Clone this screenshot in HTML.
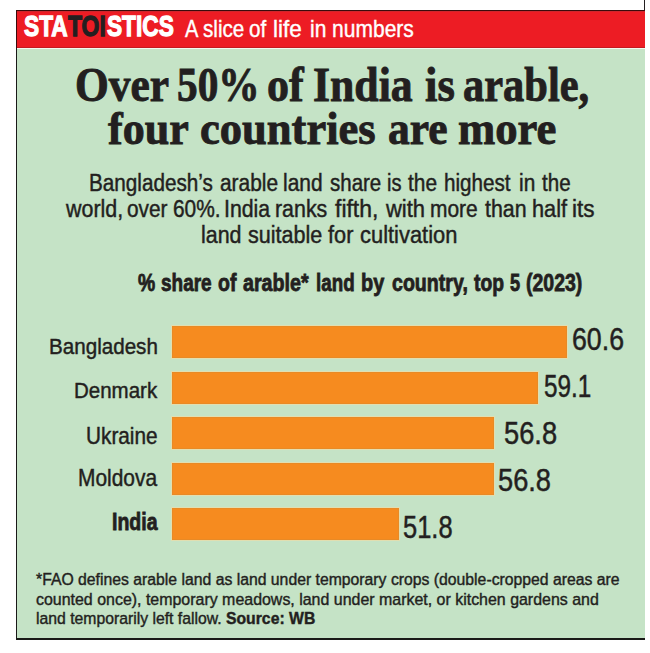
<!DOCTYPE html>
<html><head><meta charset="utf-8"><style>
html,body{margin:0;padding:0;background:#fff;width:650px;height:653px;overflow:hidden;position:relative}
.t{position:absolute;white-space:pre;line-height:1;transform-origin:0 0}
</style></head><body>
<div style="position:absolute;left:16px;top:10px;width:629px;height:630px;background:#1A1A18"></div>
<div style="position:absolute;left:17px;top:11px;width:628px;height:627px;background:#C5E3C6"></div>
<div style="position:absolute;left:16px;top:10px;width:629px;height:1px;background:#3A0B0C"></div>
<div style="position:absolute;left:16px;top:11px;width:1px;height:37px;background:#3A0B0C"></div>
<div style="position:absolute;left:17px;top:11px;width:628px;height:37px;background:#ED1C24"></div>
<div style="position:absolute;left:17px;top:11px;width:628px;height:1px;background:#D0262C"></div>
<div style="position:absolute;left:17px;top:47px;width:628px;height:1px;background:#C41A20"></div>
<div style="position:absolute;left:17px;top:48px;width:628px;height:1px;background:#F4F8F0"></div>
<div style="position:absolute;left:644px;top:0px;width:1px;height:10px;background:#231F20"></div>
<div style="position:absolute;left:172px;top:326px;width:395px;height:32px;background:#F68B1F;box-shadow:0 0 0 1px #E2DEB0, inset 0 0 0 1px #E88A26"></div>
<div style="position:absolute;left:172px;top:372px;width:366px;height:32px;background:#F68B1F;box-shadow:0 0 0 1px #E2DEB0, inset 0 0 0 1px #E88A26"></div>
<div style="position:absolute;left:172px;top:417px;width:322px;height:32px;background:#F68B1F;box-shadow:0 0 0 1px #E2DEB0, inset 0 0 0 1px #E88A26"></div>
<div style="position:absolute;left:172px;top:463px;width:322px;height:32px;background:#F68B1F;box-shadow:0 0 0 1px #E2DEB0, inset 0 0 0 1px #E88A26"></div>
<div style="position:absolute;left:172px;top:508px;width:227px;height:32px;background:#F68B1F;box-shadow:0 0 0 1px #E2DEB0, inset 0 0 0 1px #E88A26"></div>
<div class="t" style="left:24.13px;top:11.06px;font-family:'Liberation Sans',sans-serif;font-weight:700;font-size:29.57px;transform:scaleX(0.7677);letter-spacing:0px;color:#FFFFFF;-webkit-text-stroke:1.3px #FFFFFF">STA</div>
<div class="t" style="left:67.83px;top:11.06px;font-family:'Liberation Sans',sans-serif;font-weight:700;font-size:29.57px;transform:scaleX(0.7754);letter-spacing:0px;color:#231F20;-webkit-text-stroke:1.3px #231F20">TOI</div>
<div class="t" style="left:107.14px;top:11.06px;font-family:'Liberation Sans',sans-serif;font-weight:700;font-size:29.57px;transform:scaleX(0.7669);letter-spacing:0px;color:#FFFFFF;-webkit-text-stroke:1.3px #FFFFFF">STICS</div>
<div class="t" style="left:184.66px;top:17.07px;font-family:'Liberation Sans',sans-serif;font-weight:400;font-size:23.84px;transform:scaleX(0.8421);letter-spacing:0px;color:#FFFFFF;-webkit-text-stroke:0.4px #FFFFFF">A</div>
<div class="t" style="left:202.99px;top:17.07px;font-family:'Liberation Sans',sans-serif;font-weight:400;font-size:23.84px;transform:scaleX(0.8671);letter-spacing:0px;color:#FFFFFF;-webkit-text-stroke:0.4px #FFFFFF">slice</div>
<div class="t" style="left:249.25px;top:17.07px;font-family:'Liberation Sans',sans-serif;font-weight:400;font-size:23.84px;transform:scaleX(0.8658);letter-spacing:0px;color:#FFFFFF;-webkit-text-stroke:0.4px #FFFFFF">of</div>
<div class="t" style="left:273.41px;top:17.07px;font-family:'Liberation Sans',sans-serif;font-weight:400;font-size:23.84px;transform:scaleX(0.9447);letter-spacing:0px;color:#FFFFFF;-webkit-text-stroke:0.4px #FFFFFF">life</div>
<div class="t" style="left:310.08px;top:17.07px;font-family:'Liberation Sans',sans-serif;font-weight:400;font-size:23.84px;transform:scaleX(0.8822);letter-spacing:0px;color:#FFFFFF;-webkit-text-stroke:0.4px #FFFFFF">in</div>
<div class="t" style="left:332.39px;top:17.07px;font-family:'Liberation Sans',sans-serif;font-weight:400;font-size:23.84px;transform:scaleX(0.8831);letter-spacing:0px;color:#FFFFFF;-webkit-text-stroke:0.4px #FFFFFF">numbers</div>
<div class="t" style="left:74.75px;top:60.55px;font-family:'Liberation Serif',serif;font-weight:700;font-size:48.53px;transform:scaleX(0.8955);letter-spacing:0px;color:#231F20;-webkit-text-stroke:0.9px #231F20">Over</div>
<div class="t" style="left:177.17px;top:60.55px;font-family:'Liberation Serif',serif;font-weight:700;font-size:48.53px;transform:scaleX(0.8519);letter-spacing:0px;color:#231F20;-webkit-text-stroke:0.9px #231F20">50%</div>
<div class="t" style="left:266.97px;top:60.55px;font-family:'Liberation Serif',serif;font-weight:700;font-size:48.53px;transform:scaleX(0.9077);letter-spacing:0px;color:#231F20;-webkit-text-stroke:0.9px #231F20">of</div>
<div class="t" style="left:313.31px;top:60.55px;font-family:'Liberation Serif',serif;font-weight:700;font-size:48.53px;transform:scaleX(0.9018);letter-spacing:0px;color:#231F20;-webkit-text-stroke:0.9px #231F20">India</div>
<div class="t" style="left:424.8px;top:60.55px;font-family:'Liberation Serif',serif;font-weight:700;font-size:48.53px;transform:scaleX(0.9204);letter-spacing:0px;color:#231F20;-webkit-text-stroke:0.9px #231F20">is</div>
<div class="t" style="left:463.06px;top:60.55px;font-family:'Liberation Serif',serif;font-weight:700;font-size:48.53px;transform:scaleX(0.8752);letter-spacing:0px;color:#231F20;-webkit-text-stroke:0.9px #231F20">arable,</div>
<div class="t" style="left:108.24px;top:104.56px;font-family:'Liberation Serif',serif;font-weight:700;font-size:46.8px;transform:scaleX(0.9413);letter-spacing:0px;color:#231F20;-webkit-text-stroke:0.9px #231F20">four</div>
<div class="t" style="left:200.3px;top:104.56px;font-family:'Liberation Serif',serif;font-weight:700;font-size:46.8px;transform:scaleX(0.9517);letter-spacing:0px;color:#231F20;-webkit-text-stroke:0.9px #231F20">countries</div>
<div class="t" style="left:387.65px;top:104.56px;font-family:'Liberation Serif',serif;font-weight:700;font-size:46.8px;transform:scaleX(0.9296);letter-spacing:0px;color:#231F20;-webkit-text-stroke:0.9px #231F20">are</div>
<div class="t" style="left:457.57px;top:104.56px;font-family:'Liberation Serif',serif;font-weight:700;font-size:46.8px;transform:scaleX(0.955);letter-spacing:0px;color:#231F20;-webkit-text-stroke:0.9px #231F20">more</div>
<div class="t" style="left:88.97px;top:171.5px;font-family:'Liberation Sans',sans-serif;font-weight:400;font-size:23.07px;transform:scaleX(0.897);letter-spacing:0px;color:#231F20;-webkit-text-stroke:0.45px #231F20">Bangladesh’s</div>
<div class="t" style="left:219.93px;top:171.5px;font-family:'Liberation Sans',sans-serif;font-weight:400;font-size:23.07px;transform:scaleX(0.9062);letter-spacing:0px;color:#231F20;-webkit-text-stroke:0.45px #231F20">arable</div>
<div class="t" style="left:283.47px;top:171.5px;font-family:'Liberation Sans',sans-serif;font-weight:400;font-size:23.07px;transform:scaleX(0.9059);letter-spacing:0px;color:#231F20;-webkit-text-stroke:0.45px #231F20">land</div>
<div class="t" style="left:329.53px;top:171.5px;font-family:'Liberation Sans',sans-serif;font-weight:400;font-size:23.07px;transform:scaleX(0.8887);letter-spacing:0px;color:#231F20;-webkit-text-stroke:0.45px #231F20">share</div>
<div class="t" style="left:386.5px;top:171.5px;font-family:'Liberation Sans',sans-serif;font-weight:400;font-size:23.07px;transform:scaleX(0.8697);letter-spacing:0px;color:#231F20;-webkit-text-stroke:0.45px #231F20">is</div>
<div class="t" style="left:408.3px;top:171.5px;font-family:'Liberation Sans',sans-serif;font-weight:400;font-size:23.07px;transform:scaleX(0.9058);letter-spacing:0px;color:#231F20;-webkit-text-stroke:0.45px #231F20">the</div>
<div class="t" style="left:443.9px;top:171.5px;font-family:'Liberation Sans',sans-serif;font-weight:400;font-size:23.07px;transform:scaleX(0.8953);letter-spacing:0px;color:#231F20;-webkit-text-stroke:0.45px #231F20">highest</div>
<div class="t" style="left:519.07px;top:171.5px;font-family:'Liberation Sans',sans-serif;font-weight:400;font-size:23.07px;transform:scaleX(0.9028);letter-spacing:0px;color:#231F20;-webkit-text-stroke:0.45px #231F20">in</div>
<div class="t" style="left:542.37px;top:171.5px;font-family:'Liberation Sans',sans-serif;font-weight:400;font-size:23.07px;transform:scaleX(0.8919);letter-spacing:0px;color:#231F20;-webkit-text-stroke:0.45px #231F20">the</div>
<div class="t" style="left:65.66px;top:196.81px;font-family:'Liberation Sans',sans-serif;font-weight:400;font-size:23.89px;transform:scaleX(0.8972);letter-spacing:0px;color:#231F20;-webkit-text-stroke:0.45px #231F20">world,</div>
<div class="t" style="left:126.85px;top:196.81px;font-family:'Liberation Sans',sans-serif;font-weight:400;font-size:23.89px;transform:scaleX(0.8717);letter-spacing:0px;color:#231F20;-webkit-text-stroke:0.45px #231F20">over</div>
<div class="t" style="left:173.06px;top:196.81px;font-family:'Liberation Sans',sans-serif;font-weight:400;font-size:23.89px;transform:scaleX(0.8754);letter-spacing:0px;color:#231F20;-webkit-text-stroke:0.45px #231F20">60%.</div>
<div class="t" style="left:223.64px;top:196.81px;font-family:'Liberation Sans',sans-serif;font-weight:400;font-size:23.89px;transform:scaleX(0.8902);letter-spacing:0px;color:#231F20;-webkit-text-stroke:0.45px #231F20">India</div>
<div class="t" style="left:275.49px;top:196.81px;font-family:'Liberation Sans',sans-serif;font-weight:400;font-size:23.89px;transform:scaleX(0.8951);letter-spacing:0px;color:#231F20;-webkit-text-stroke:0.45px #231F20">ranks</div>
<div class="t" style="left:335.44px;top:196.81px;font-family:'Liberation Sans',sans-serif;font-weight:400;font-size:23.89px;transform:scaleX(0.9616);letter-spacing:0px;color:#231F20;-webkit-text-stroke:0.45px #231F20">fifth,</div>
<div class="t" style="left:386.47px;top:196.81px;font-family:'Liberation Sans',sans-serif;font-weight:400;font-size:23.89px;transform:scaleX(0.92);letter-spacing:0px;color:#231F20;-webkit-text-stroke:0.45px #231F20">with</div>
<div class="t" style="left:430.12px;top:196.81px;font-family:'Liberation Sans',sans-serif;font-weight:400;font-size:23.89px;transform:scaleX(0.8775);letter-spacing:0px;color:#231F20;-webkit-text-stroke:0.45px #231F20">more</div>
<div class="t" style="left:484.5px;top:196.81px;font-family:'Liberation Sans',sans-serif;font-weight:400;font-size:23.89px;transform:scaleX(0.8941);letter-spacing:0px;color:#231F20;-webkit-text-stroke:0.45px #231F20">than</div>
<div class="t" style="left:532.1px;top:196.81px;font-family:'Liberation Sans',sans-serif;font-weight:400;font-size:23.89px;transform:scaleX(0.9107);letter-spacing:0px;color:#231F20;-webkit-text-stroke:0.45px #231F20">half</div>
<div class="t" style="left:572.36px;top:196.81px;font-family:'Liberation Sans',sans-serif;font-weight:400;font-size:23.89px;transform:scaleX(0.9454);letter-spacing:0px;color:#231F20;-webkit-text-stroke:0.45px #231F20">its</div>
<div class="t" style="left:201.46px;top:222.7px;font-family:'Liberation Sans',sans-serif;font-weight:400;font-size:23.89px;transform:scaleX(0.8981);letter-spacing:0px;color:#231F20;-webkit-text-stroke:0.45px #231F20">land</div>
<div class="t" style="left:247.66px;top:222.7px;font-family:'Liberation Sans',sans-serif;font-weight:400;font-size:23.89px;transform:scaleX(0.9033);letter-spacing:0px;color:#231F20;-webkit-text-stroke:0.45px #231F20">suitable</div>
<div class="t" style="left:328.44px;top:222.7px;font-family:'Liberation Sans',sans-serif;font-weight:400;font-size:23.89px;transform:scaleX(0.9106);letter-spacing:0px;color:#231F20;-webkit-text-stroke:0.45px #231F20">for</div>
<div class="t" style="left:360.44px;top:222.7px;font-family:'Liberation Sans',sans-serif;font-weight:400;font-size:23.89px;transform:scaleX(0.9171);letter-spacing:0px;color:#231F20;-webkit-text-stroke:0.45px #231F20">cultivation</div>
<div class="t" style="left:137.8px;top:272.18px;font-family:'Liberation Sans',sans-serif;font-weight:700;font-size:23.47px;transform:scaleX(0.8236);letter-spacing:0px;color:#231F20;-webkit-text-stroke:0.8px #231F20">%</div>
<div class="t" style="left:160.71px;top:272.18px;font-family:'Liberation Sans',sans-serif;font-weight:700;font-size:23.47px;transform:scaleX(0.8082);letter-spacing:0px;color:#231F20;-webkit-text-stroke:0.8px #231F20">share</div>
<div class="t" style="left:217.62px;top:272.18px;font-family:'Liberation Sans',sans-serif;font-weight:700;font-size:23.47px;transform:scaleX(0.8306);letter-spacing:0px;color:#231F20;-webkit-text-stroke:0.8px #231F20">of</div>
<div class="t" style="left:243.48px;top:272.18px;font-family:'Liberation Sans',sans-serif;font-weight:700;font-size:23.47px;transform:scaleX(0.8394);letter-spacing:0px;color:#231F20;-webkit-text-stroke:0.8px #231F20">arable*</div>
<div class="t" style="left:316.14px;top:272.18px;font-family:'Liberation Sans',sans-serif;font-weight:700;font-size:23.47px;transform:scaleX(0.8);letter-spacing:0px;color:#231F20;-webkit-text-stroke:0.8px #231F20">land</div>
<div class="t" style="left:361.47px;top:272.18px;font-family:'Liberation Sans',sans-serif;font-weight:700;font-size:23.47px;transform:scaleX(0.8489);letter-spacing:0px;color:#231F20;-webkit-text-stroke:0.8px #231F20">by</div>
<div class="t" style="left:391.87px;top:272.18px;font-family:'Liberation Sans',sans-serif;font-weight:700;font-size:23.47px;transform:scaleX(0.8347);letter-spacing:0px;color:#231F20;-webkit-text-stroke:0.8px #231F20">country,</div>
<div class="t" style="left:473.54px;top:272.18px;font-family:'Liberation Sans',sans-serif;font-weight:700;font-size:23.47px;transform:scaleX(0.8221);letter-spacing:0px;color:#231F20;-webkit-text-stroke:0.8px #231F20">top</div>
<div class="t" style="left:509.7px;top:272.18px;font-family:'Liberation Sans',sans-serif;font-weight:700;font-size:23.47px;transform:scaleX(0.7763);letter-spacing:0px;color:#231F20;-webkit-text-stroke:0.8px #231F20">5</div>
<div class="t" style="left:525.86px;top:272.18px;font-family:'Liberation Sans',sans-serif;font-weight:700;font-size:23.47px;transform:scaleX(0.8304);letter-spacing:0px;color:#231F20;-webkit-text-stroke:0.8px #231F20">(2023)</div>
<div class="t" id="l1" style="left:49.28px;top:336.36px;font-family:'Liberation Sans',sans-serif;font-weight:400;font-size:22.29px;transform:scaleX(0.9252);color:#231F20;-webkit-text-stroke:0.45px #231F20;">Bangladesh</div>
<div class="t" id="l2" style="left:74.1px;top:380.45px;font-family:'Liberation Sans',sans-serif;font-weight:400;font-size:22.29px;transform:scaleX(0.9202);color:#231F20;-webkit-text-stroke:0.45px #231F20;">Denmark</div>
<div class="t" id="l3" style="left:86.09px;top:424.67px;font-family:'Liberation Sans',sans-serif;font-weight:400;font-size:23.43px;transform:scaleX(0.8865);color:#231F20;-webkit-text-stroke:0.45px #231F20;">Ukraine</div>
<div class="t" id="l4" style="left:77.67px;top:466.9px;font-family:'Liberation Sans',sans-serif;font-weight:400;font-size:23.43px;transform:scaleX(0.8932);color:#231F20;-webkit-text-stroke:0.45px #231F20;">Moldova</div>
<div class="t" id="l5" style="left:111.86px;top:510.72px;font-family:'Liberation Sans',sans-serif;font-weight:700;font-size:23.43px;transform:scaleX(0.8325);color:#231F20;-webkit-text-stroke:0.8px #231F20;">India</div>
<div class="t" id="v1" style="left:571.86px;top:324.01px;font-family:'Liberation Sans',sans-serif;font-weight:400;font-size:31.11px;transform:scaleX(0.859);color:#231F20;-webkit-text-stroke:0.5px #231F20;">60.6</div>
<div class="t" id="v2" style="left:544.48px;top:370.77px;font-family:'Liberation Sans',sans-serif;font-weight:400;font-size:31.11px;transform:scaleX(0.7814);color:#231F20;-webkit-text-stroke:0.5px #231F20;">59.1</div>
<div class="t" id="v3" style="left:504.01px;top:417.77px;font-family:'Liberation Sans',sans-serif;font-weight:400;font-size:31.11px;transform:scaleX(0.8759);color:#231F20;-webkit-text-stroke:0.5px #231F20;">56.8</div>
<div class="t" id="v4" style="left:497.81px;top:464.73px;font-family:'Liberation Sans',sans-serif;font-weight:400;font-size:30.56px;transform:scaleX(0.8919);color:#231F20;-webkit-text-stroke:0.5px #231F20;">56.8</div>
<div class="t" id="v5" style="left:403.1px;top:511.73px;font-family:'Liberation Sans',sans-serif;font-weight:400;font-size:30.56px;transform:scaleX(0.8336);color:#231F20;-webkit-text-stroke:0.5px #231F20;">51.8</div>
<div class="t" id="f1" style="left:36.4px;top:572.44px;font-family:'Liberation Sans',sans-serif;font-weight:400;font-size:16.0px;transform:scaleX(0.9852);color:#231F20;-webkit-text-stroke:0.4px #231F20;">*FAO defines arable land as land under temporary crops (double-cropped areas are</div>
<div class="t" id="f2" style="left:35.78px;top:590.68px;font-family:'Liberation Sans',sans-serif;font-weight:400;font-size:16.29px;transform:scaleX(0.9793);color:#231F20;-webkit-text-stroke:0.4px #231F20;">counted once), temporary meadows, land under market, or kitchen gardens and</div>
<div class="t" id="f3" style="left:35.56px;top:609.88px;font-family:'Liberation Sans',sans-serif;font-weight:400;font-size:16.29px;transform:scaleX(0.9675);color:#231F20;-webkit-text-stroke:0.4px #231F20;">land temporarily left fallow. <b>Source: WB</b></div>
</body></html>
